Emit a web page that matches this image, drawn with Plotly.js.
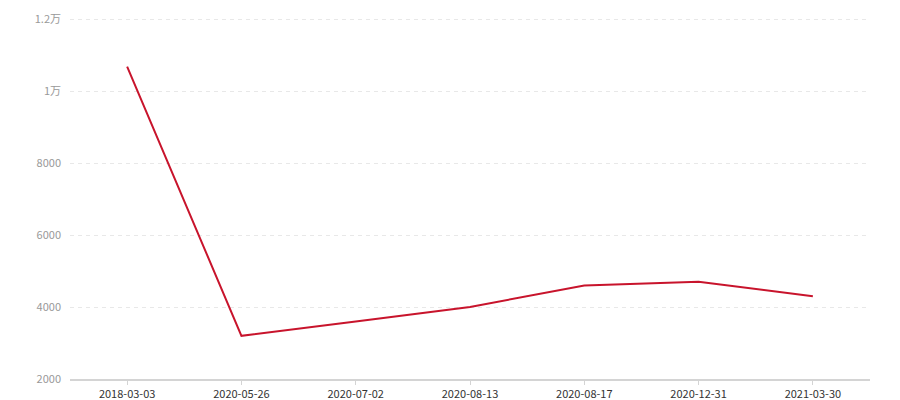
<!DOCTYPE html>
<html>
<head>
<meta charset="utf-8">
<script src="https://cdn.plot.ly/plotly-3.0.1.min.js"></script>
<style>html,body{margin:0;padding:0;background:#fff}#chart{width:900px;height:400px}</style>
</head>
<body>
<div id="chart"></div>
<script>
const categories = ['2018-03-03','2020-05-26','2020-07-02','2020-08-13','2020-08-17','2020-12-31','2021-03-30'];
const values = [10680, 3200, 3600, 4000, 4600, 4700, 4300];
const yTickVals = [2000, 4000, 6000, 8000, 10000, 12000];
const yTickText = ['2000', '4000', '6000', '8000', '1万', '1.2万'];

const font = '"Microsoft YaHei", "Noto Sans CJK SC", "Noto Sans", sans-serif';

Plotly.newPlot('chart', [{
  type: 'scatter',
  mode: 'lines',
  x: categories,
  y: values,
  line: {color: '#c8142c', width: 2},
  hoverinfo: 'x+y'
}], {
  width: 900, height: 400,
  margin: {l: 70, r: 30, t: 18, b: 21, pad: 0},
  paper_bgcolor: '#fff', plot_bgcolor: '#fff',
  showlegend: false,
  font: {family: font},
  xaxis: {
    type: 'category',
    range: [-0.5, 6.5],
    showgrid: false,
    zeroline: false,
    showline: true,
    linecolor: '#d4d4d4',
    linewidth: 2,
    ticks: 'outside',
    ticklen: 4,
    tickcolor: '#d4d4d4',
    tickwidth: 1,
    tickfont: {size: 11, color: '#333', family: font}
  },
  yaxis: {
    range: [2000, 12030],
    tickvals: yTickVals,
    ticktext: yTickText,
    showgrid: true,
    gridcolor: '#e8e8e8',
    griddash: '4px,4px',
    gridwidth: 1,
    zeroline: false,
    showline: false,
    ticks: '',
    ticklabelstandoff: 8,
    tickfont: {size: 11, color: '#999', family: font}
  }
}, {displayModeBar: false, staticPlot: true});
</script>
</body>
</html>
